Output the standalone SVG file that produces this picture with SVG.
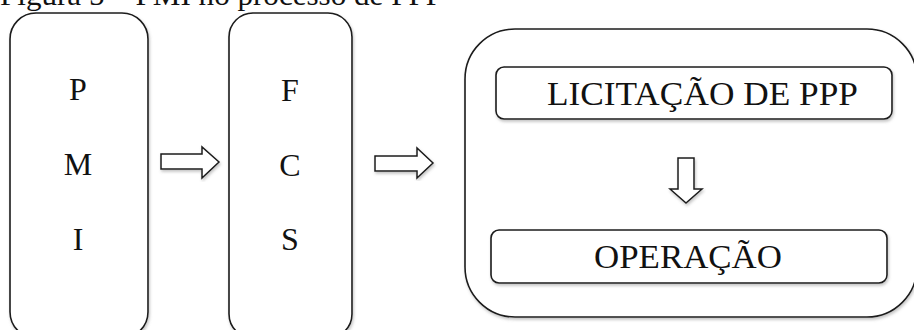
<svg xmlns="http://www.w3.org/2000/svg" width="914" height="330" viewBox="0 0 914 330">
  <defs>
    <filter id="soft" x="-10%" y="-10%" width="120%" height="120%">
      <feDropShadow dx="1" dy="2" stdDeviation="1.5" flood-color="#7a7a7a" flood-opacity="0.45"/>
    </filter>
  </defs>
  <style>
    .box { fill: #ffffff; stroke: #1a1a1a; stroke-width: 1.6; filter: url(#soft); }
    .arrow { fill: #ffffff; stroke: #1a1a1a; stroke-width: 1.5; stroke-linejoin: miter; filter: url(#soft); }
    .lbl { font-family: "Liberation Serif", "Times New Roman", serif; fill: #111111; }
    .letter { font-size: 32px; text-anchor: middle; }
    .big { font-size: 33px; }
  </style>

  <rect width="914" height="330" fill="#ffffff"/>

  <!-- caption line at the top -->
  <text class="lbl" x="0" y="5" font-size="30" textLength="443" lengthAdjust="spacingAndGlyphs">Figura 5 – PMI no processo de PPP</text>

  <!-- PMI column -->
  <g id="pmi">
    <rect class="box" x="10" y="13" width="138" height="325" rx="26" ry="26"/>
    <text class="lbl letter" x="78" y="100">P</text>
    <text class="lbl letter" x="78" y="175">M</text>
    <text class="lbl letter" x="78" y="250">I</text>
  </g>

  <!-- FCS column -->
  <g id="fcs">
    <rect class="box" x="229" y="13" width="123" height="325" rx="24" ry="24"/>
    <text class="lbl letter" x="290" y="101">F</text>
    <text class="lbl letter" x="290" y="176">C</text>
    <text class="lbl letter" x="290" y="250">S</text>
  </g>

  <!-- tender and operation stage -->
  <g id="stage">
    <rect class="box" x="465" y="29" width="452" height="288" rx="50" ry="50"/>
  </g>

  <g id="licitacao">
    <rect class="box" x="496" y="67" width="396" height="52" rx="8" ry="8"/>
    <text class="lbl big" x="547" y="105" textLength="311" lengthAdjust="spacingAndGlyphs">LICITAÇÃO DE PPP</text>
  </g>

  <g id="operacao">
    <rect class="box" x="491" y="230" width="396" height="53" rx="8" ry="8"/>
    <text class="lbl big" x="594" y="268" textLength="188" lengthAdjust="spacingAndGlyphs">OPERAÇÃO</text>
  </g>

  <!-- block arrows between the steps -->
  <g id="connectors">
    <polygon class="arrow" points="161,154 202,154 202,147 219,162 202,178 202,169 161,169"/>
    <polygon class="arrow" points="375,156 417,156 417,148 433,163 417,178 417,171 375,171"/>
    <polygon class="arrow" points="678,158 694,158 694,189 702,189 686,203 670,189 678,189"/>
  </g>
</svg>
